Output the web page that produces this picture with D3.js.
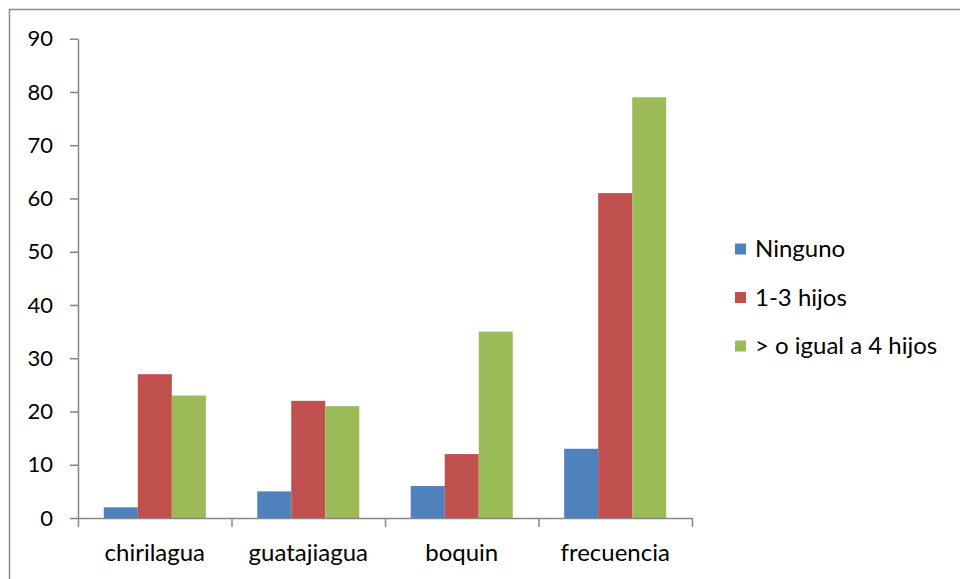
<!DOCTYPE html>
<html>
<head>
<meta charset="utf-8">
<script src="https://cdn.jsdelivr.net/npm/d3@7"></script>
<style>
    body { margin: 0; background: #fff; }
    text { font-family: Lato, "Open Sans", sans-serif; fill: #000; }
    .axis path, .axis line { stroke: #868686; stroke-width: 1.5; }
</style>
</head>
<body>
<div id="chart"></div>
<script>
// data
var categories = ["chirilagua", "guatajiagua", "boquin", "frecuencia"];
var seriesNames = ["Ninguno", "1-3 hijos", "> o igual a 4 hijos"];
var ninguno = [2, 5, 6, 13];
var unoATres = [27, 22, 12, 61];
var cuatroOMas = [23, 21, 35, 79];
var yTicks = [0, 10, 20, 30, 40, 50, 60, 70, 80, 90];
var colors = ["#4F81BD", "#C0504D", "#9BBB59"];

var series = [ninguno, unoATres, cuatroOMas];

var W = 960, H = 579;
var margin = { top: 38.7, left: 78, right: 268, bottom: 61 };
var width = W - margin.left - margin.right,
    height = H - margin.top - margin.bottom;

var svg = d3.select("#chart")
    .append("svg")
    .attr("width", W)
    .attr("height", H);

// outer chart border (runs off the right and bottom)
svg.append("rect")
    .attr("x", 9.5)
    .attr("y", 9.5)
    .attr("width", W + 20)
    .attr("height", H + 20)
    .style("fill", "none")
    .style("stroke", "#898989")
    .style("stroke-width", 1.5);

var g = svg.append("g")
    .attr("transform", "translate(" + margin.left + "," + margin.top + ")");

var x0 = d3.scaleBand()
    .domain(categories)
    .range([0, width])
    .paddingInner(0.335)
    .paddingOuter(0.168);

var x1 = d3.scaleBand()
    .domain(d3.range(series.length))
    .range([0, x0.bandwidth()]);

var y = d3.scaleLinear()
    .domain([0, 90])
    .range([height, 0]);

// bars
categories.forEach(function (c, i) {
    series.forEach(function (s, j) {
        g.append("rect")
            .attr("x", x0(c) + x1(j))
            .attr("y", y(s[i]))
            .attr("width", x1.bandwidth())
            .attr("height", height - y(s[i]))
            .style("fill", colors[j]);
    });
});

// y axis
var yAxis = g.append("g")
    .attr("class", "axis")
    .call(d3.axisLeft(y).tickValues(yTicks).tickSize(8).tickSizeOuter(0).tickPadding(17));
yAxis.selectAll("text").style("font-size", "22px");

// x axis: ticks at category boundaries
var xb = d3.scaleLinear().domain([0, categories.length]).range([0, width]);
g.append("g")
    .attr("class", "axis")
    .attr("transform", "translate(0," + height + ")")
    .call(d3.axisBottom(xb).tickValues(d3.range(categories.length + 1)).tickSize(9).tickSizeOuter(0).tickFormat(""));

// category labels
var xLab = g.append("g")
    .attr("class", "axis")
    .attr("transform", "translate(0," + height + ")")
    .call(d3.axisBottom(x0).tickSize(0).tickPadding(26));
xLab.select(".domain").remove();
xLab.selectAll("text").style("font-size", "24px");

// legend
var legend = svg.append("g")
    .attr("transform", "translate(735,249)");
seriesNames.forEach(function (n, i) {
    legend.append("rect")
        .attr("x", 0)
        .attr("y", i * 48.5 - 5.5)
        .attr("width", 11)
        .attr("height", 11)
        .style("fill", colors[i]);
    legend.append("text")
        .attr("x", 20)
        .attr("y", i * 48.5)
        .attr("dy", "0.35em")
        .style("font-size", "24px")
        .text(n);
});
</script>
</body>
</html>
